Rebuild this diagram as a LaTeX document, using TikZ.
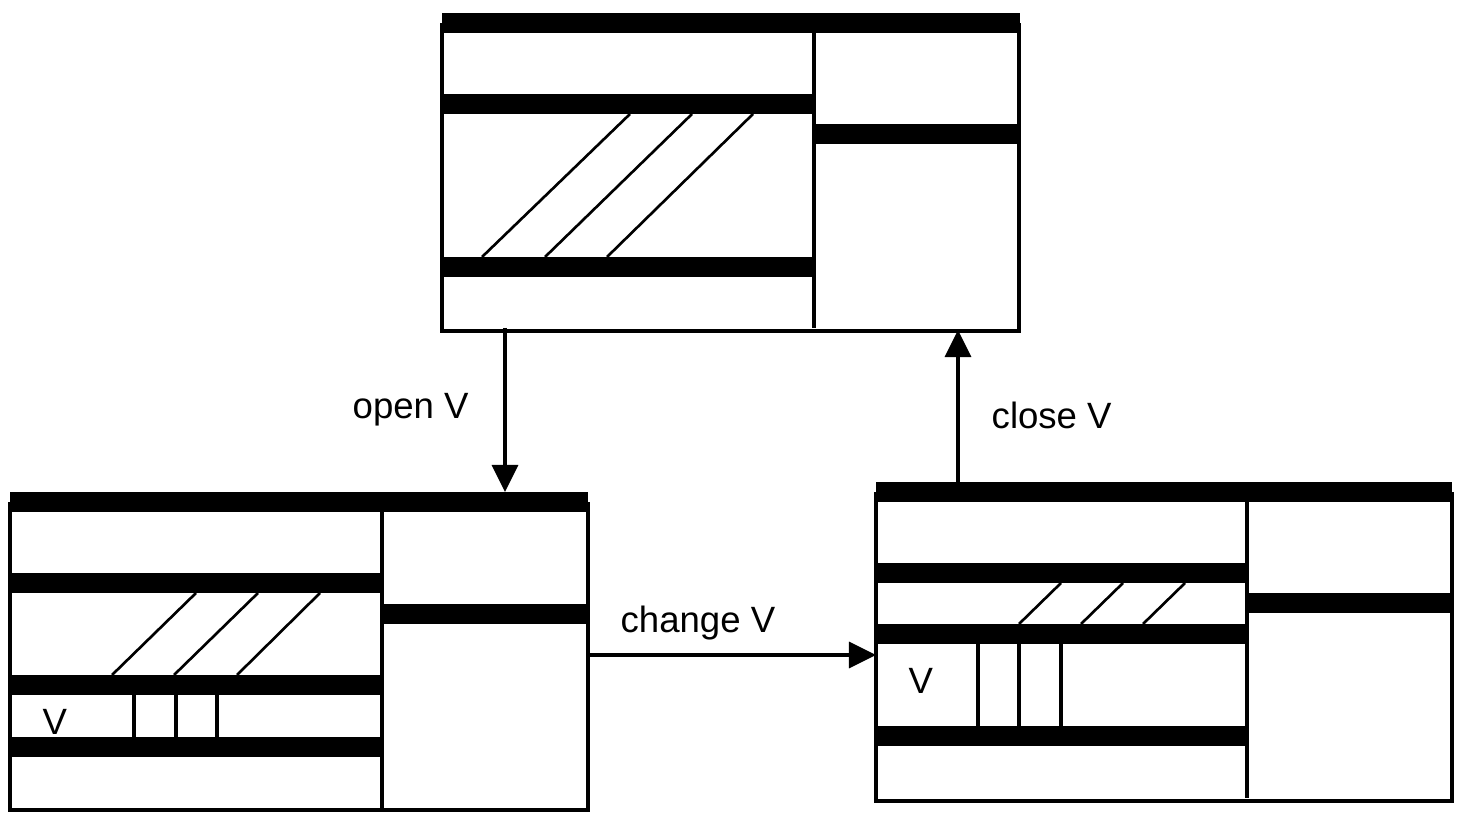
\documentclass[tikz,border=0pt]{standalone}
\usepackage{fontspec}
\setmainfont{Liberation Sans}
\usetikzlibrary{arrows.meta}

\begin{document}
\begin{tikzpicture}[x=0.01cm, y=-0.01cm,
    frame/.style={draw=black, line width=0.95pt},
    bar/.style={fill=black},
    hatch/.style={draw=black, line width=0.75pt},
    flow/.style={draw=black, line width=0.95pt, -{Triangle[width=0.26cm, length=0.27cm]}},
    lbl/.style={inner sep=0pt, anchor=base west, font=\fontsize{10.4}{12}\selectfont}]
\useasboundingbox (0,0) rectangle (1466,828);

% top state
\draw[frame] (442,23) -- (442,331) -- (1019,331) -- (1019,23);
\fill[bar] (442,13) rectangle (1020,33);
\draw[frame] (814,33) -- (814,328);
\fill[bar] (442,94) rectangle (812,114);
\fill[bar] (442,257) rectangle (812,277);
\fill[bar] (815,124) rectangle (1019,144);
\draw[hatch] (482,257) -- (630,114);
\draw[hatch] (545,257) -- (692,114);
\draw[hatch] (607,257) -- (753,114);

% lower left state
\draw[frame] (10,502) -- (10,810) -- (588,810) -- (588,502);
\fill[bar] (10,492) rectangle (588,512);
\draw[frame] (382,512) -- (382,808);
\fill[bar] (10,573) rectangle (380,593);
\fill[bar] (10,675) rectangle (380,695);
\fill[bar] (10,737) rectangle (380,757);
\fill[bar] (383,604) rectangle (587,624);
\draw[hatch] (112,675) -- (196,593);
\draw[hatch] (174,675) -- (258,593);
\draw[hatch] (237,675) -- (320,593);
\foreach \x in {134,176,217}
    \draw[frame] (\x,695) -- (\x,737);
\node[lbl] (leftV) at (42,735) {V};

% lower right state
\draw[frame] (876,492) -- (876,801) -- (1452,801) -- (1452,492);
\fill[bar] (876,482) rectangle (1452,502);
\draw[frame] (1247,502) -- (1247,798);
\fill[bar] (876,563) rectangle (1245,583);
\fill[bar] (876,624) rectangle (1245,644);
\fill[bar] (876,726) rectangle (1245,746);
\fill[bar] (1248,593) rectangle (1451,613);
\draw[hatch] (1019,624) -- (1061,583);
\draw[hatch] (1081,624) -- (1123,583);
\draw[hatch] (1143,624) -- (1185,583);
\foreach \x in {978,1019,1061}
    \draw[frame] (\x,644) -- (\x,726);
\node[lbl] (rightV) at (908,694) {V};

% transitions
\coordinate (top-out) at (505,328);
\coordinate (left-in) at (505,492);
\coordinate (left-out) at (587,655);
\coordinate (right-in) at (876,655);
\coordinate (right-out) at (958,482);
\coordinate (top-in) at (958,330);
\draw[flow] (top-out) -- (left-in);
\draw[flow] (left-out) -- (right-in);
\draw[flow] (right-out) -- (top-in);
\node[lbl] (openlbl) at (352,419) {open V};
\node[lbl] (changelbl) at (620,633) {change V};
\node[lbl] (closelbl) at (991,429) {close V};
\end{tikzpicture}
\end{document}
